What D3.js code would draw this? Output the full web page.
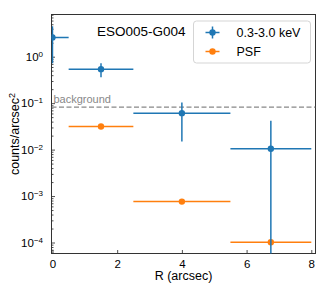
<!DOCTYPE html>
<html>
<head>
<meta charset="utf-8">
<script src="https://cdn.jsdelivr.net/npm/d3@7"></script>
<style>
  body { margin: 0; background: #fff; }
  svg { font-family: "Liberation Sans", Arial, sans-serif; }
</style>
</head>
<body>
<div id="chart"></div>
<script>
// radial profile, 0.3-3.0 keV
var blueX = [0, 1.5, 4, 6.75];
var blueXerr = [0.5, 1.0, 1.5, 1.25];
var blueY = [2.6, 0.54, 0.061, 0.0104];
var blueYHi = [4.5, 0.72, 0.103, 0.042];
var blueYLo = [0.72, 0.36, 0.015, 1e-7];

// PSF
var psfX = [1.5, 4, 6.75];
var psfXerr = [1.0, 1.5, 1.25];
var psfY = [0.0315, 0.00076, 0.000101];

var background = 0.082;
var xTicks = [0, 2, 4, 6, 8];
var yTicks = [1e-4, 1e-3, 1e-2, 1e-1, 1];

var width = 324, height = 291;
var mLeft = 51.5, mRight = 315.5, mTop = 14.5, mBottom = 253.5;

var blue = "#1f77b4", orange = "#ff7f0e";

var x = d3.scaleLinear().domain([-0.03, 8.13]).range([mLeft, mRight]);
var y = d3.scaleLog().domain([5.8e-5, 8.1]).range([mBottom, mTop]);

var svg = d3.select("#chart").append("svg")
  .attr("width", width)
  .attr("height", height);

svg.append("clipPath").attr("id", "clip")
  .append("rect")
  .attr("x", mLeft).attr("y", mTop)
  .attr("width", mRight - mLeft).attr("height", mBottom - mTop);

// axes, ticks inward
var xAxis = svg.append("g")
  .attr("transform", "translate(0," + mBottom + ")")
  .call(d3.axisBottom(x).tickValues(xTicks).tickSizeInner(-3.5).tickSizeOuter(0).tickPadding(6));

var minor = [];
for (var e = -5; e <= 0; e++) {
  for (var m = 2; m <= 9; m++) {
    var v = m * Math.pow(10, e);
    if (v > y.domain()[0] && v < y.domain()[1]) minor.push(v);
  }
}
svg.append("g")
  .attr("transform", "translate(" + mLeft + ",0)")
  .call(d3.axisLeft(y).tickValues(minor).tickSizeInner(-2).tickSizeOuter(0).tickFormat(""));

var yAxis = svg.append("g")
  .attr("transform", "translate(" + mLeft + ",0)")
  .call(d3.axisLeft(y).tickValues(yTicks).tickSizeInner(-3.5).tickSizeOuter(0)
    .tickFormat(""));

svg.selectAll(".domain").remove();
svg.selectAll(".tick line").attr("stroke", "#222").attr("stroke-width", 0.8);
xAxis.selectAll("text").attr("font-size", 11.5).attr("fill", "#000")
  .attr("font-family", "Liberation Sans, Arial, sans-serif");

yAxis.selectAll(".tick").each(function (d) {
  var t = d3.select(this).append("text")
    .attr("x", -8.5).attr("dy", "0.32em")
    .attr("text-anchor", "end")
    .attr("fill", "#000")
    .attr("font-size", 11.5)
    .attr("font-family", "Liberation Sans, Arial, sans-serif");
  t.append("tspan").text("10");
  t.append("tspan").attr("dy", "-0.5em").attr("font-size", 8)
    .text(String(Math.round(Math.log10(d))).replace("-", "\u2212"));
});

// frame
svg.append("rect")
  .attr("x", mLeft).attr("y", mTop)
  .attr("width", mRight - mLeft).attr("height", mBottom - mTop)
  .attr("fill", "none").attr("stroke", "#333").attr("stroke-width", 1);

var plot = svg.append("g").attr("clip-path", "url(#clip)");

// background level
plot.append("line")
  .attr("x1", mLeft).attr("x2", mRight)
  .attr("y1", y(background)).attr("y2", y(background))
  .attr("stroke", "#888").attr("stroke-width", 1.3)
  .attr("stroke-dasharray", "5,2.5");

svg.append("text")
  .attr("x", x(0) + 1).attr("y", y(background) - 4)
  .attr("font-size", 11).attr("fill", "#888")
  .text("background");

function drawSeries(xs, xerr, ys, yhi, ylo, color) {
  var g = plot.append("g");
  xs.forEach(function (xv, i) {
    g.append("line")
      .attr("x1", x(xv - xerr[i])).attr("x2", x(xv + xerr[i]))
      .attr("y1", y(ys[i])).attr("y2", y(ys[i]))
      .attr("stroke", color).attr("stroke-width", 1.5);
    if (yhi) {
      g.append("line")
        .attr("x1", x(xv)).attr("x2", x(xv))
        .attr("y1", y(yhi[i])).attr("y2", y(ylo[i]))
        .attr("stroke", color).attr("stroke-width", 1.5);
    }
    g.append("circle")
      .attr("cx", x(xv)).attr("cy", y(ys[i]))
      .attr("r", 3.2).attr("fill", color);
  });
}

drawSeries(psfX, psfXerr, psfY, null, null, orange);
drawSeries(blueX, blueXerr, blueY, blueYHi, blueYLo, blue);

// object name
svg.append("text")
  .attr("x", 97).attr("y", 36)
  .attr("font-size", 13.5).attr("fill", "#000")
  .text("ESO005-G004");

// legend
var lg = svg.append("g");
lg.append("rect")
  .attr("x", 193.5).attr("y", 21).attr("width", 117).attr("height", 42)
  .attr("rx", 3).attr("fill", "#fff").attr("fill-opacity", 0.8)
  .attr("stroke", "#d5d5d5").attr("stroke-width", 1);

var legendItems = [
  { label: "0.3-3.0 keV", color: blue, vbar: true, y: 32.5 },
  { label: "PSF", color: orange, vbar: false, y: 51.5 }
];
legendItems.forEach(function (d) {
  lg.append("line")
    .attr("x1", 205.5).attr("x2", 219.5).attr("y1", d.y).attr("y2", d.y)
    .attr("stroke", d.color).attr("stroke-width", 1.5);
  if (d.vbar) {
    lg.append("line")
      .attr("x1", 212.5).attr("x2", 212.5).attr("y1", d.y - 6).attr("y2", d.y + 6)
      .attr("stroke", d.color).attr("stroke-width", 1.5);
  }
  lg.append("circle").attr("cx", 212.5).attr("cy", d.y).attr("r", 3.2).attr("fill", d.color);
  lg.append("text")
    .attr("x", 236.5).attr("y", d.y + 4.5)
    .attr("font-size", 12.5).attr("fill", "#000")
    .text(d.label);
});

// axis labels
svg.append("text")
  .attr("x", (mLeft + mRight) / 2).attr("y", 279.5)
  .attr("text-anchor", "middle").attr("font-size", 12.5)
  .text("R (arcsec)");

var yl = svg.append("text")
  .attr("transform", "translate(19," + ((mTop + mBottom) / 2) + ") rotate(-90)")
  .attr("text-anchor", "middle").attr("font-size", 12.5);
yl.append("tspan").text("counts/arcsec");
yl.append("tspan").attr("dy", "-0.45em").attr("font-size", 9).text("2");
</script>
</body>
</html>
